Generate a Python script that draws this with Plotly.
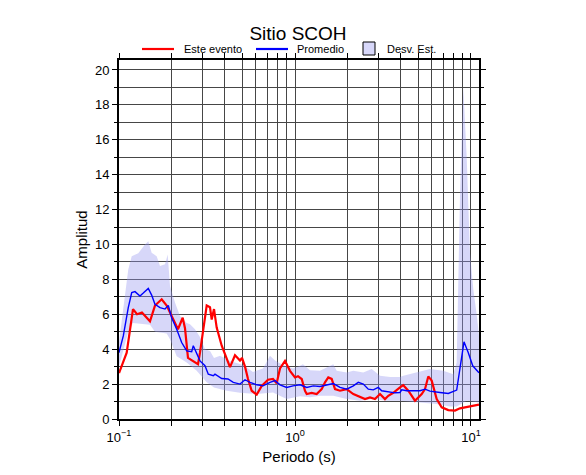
import plotly.graph_objects as go

# ---- data ----
red_period = [0.100, 0.1106, 0.1201, 0.1266, 0.135, 0.1500, 0.1601, 0.1748, 0.1866, 0.1992,
              0.2163, 0.2301, 0.2371, 0.2466, 0.2633, 0.2811, 0.2885, 0.3080, 0.3150, 0.3289,
              0.3363, 0.3466, 0.3590, 0.3834, 0.4091, 0.4272, 0.4561, 0.4870, 0.500, 0.520,
              0.5408, 0.5675, 0.6060, 0.6469, 0.7024, 0.7499, 0.7870, 0.8219, 0.8773, 0.9366,
              1.0, 1.040, 1.092, 1.140, 1.166, 1.244, 1.328, 1.418, 1.481, 1.546,
              1.616, 1.688, 1.802, 1.967, 2.145, 2.341, 2.499, 2.668, 2.848, 3.041,
              3.245, 3.389, 3.618, 3.950, 4.124, 4.404, 4.806, 5.247, 5.478, 5.720,
              5.979, 6.385, 6.816, 7.430, 8.111, 8.660, 9.654, 11.10]
red_amp = [2.63, 3.8, 6.3, 6.0, 6.1, 5.6, 6.5, 6.86, 6.5, 5.9,
           5.14, 5.8, 5.2, 3.5, 3.3, 3.14, 3.8, 6.0, 6.5, 6.4,
           5.7, 6.3, 5.24, 4.2, 3.43, 2.97, 3.65, 3.35, 3.5, 3.0,
           2.29, 1.62, 1.4, 1.9, 2.25, 2.29, 2.05, 2.9, 3.33, 2.76,
           2.38, 2.45, 2.29, 1.62, 1.43, 1.5, 1.43, 1.71, 2.1, 2.38,
           2.3, 1.71, 1.62, 1.71, 1.43, 1.24, 1.14, 1.24, 1.14, 1.43,
           1.14, 1.33, 1.5, 1.81, 1.94, 1.62, 1.05, 1.43, 1.71, 2.44,
           2.2, 1.14, 0.67, 0.51, 0.48, 0.61, 0.69, 0.82]

blue_period = [0.100, 0.1058, 0.1129, 0.1181, 0.1233, 0.1316, 0.1369, 0.1467, 0.1533, 0.1601,
               0.1710, 0.1826, 0.1906, 0.1992, 0.2127, 0.2271, 0.2425, 0.2588, 0.2643, 0.2763,
               0.2885, 0.3080, 0.3216, 0.3434, 0.3511, 0.3834, 0.4161, 0.4461, 0.4870, 0.5199,
               0.5550, 0.6060, 0.6580, 0.7211, 0.7698, 0.8219, 0.8970, 0.9741, 1.068, 1.166,
               1.271, 1.387, 1.514, 1.651, 1.802, 1.967, 2.145, 2.289, 2.444, 2.609,
               2.786, 2.973, 3.109, 3.389, 3.700, 3.950, 4.040, 4.312, 4.701, 5.131,
               5.478, 5.848, 6.667, 7.430, 8.293, 9.125, 9.654, 10.23, 11.10]
blue_amp = [3.8, 4.76, 6.38, 7.24, 7.3, 7.05, 7.2, 7.48, 7.1, 6.57,
            6.38, 6.3, 6.5, 5.8, 5.14, 4.38, 3.9, 3.86, 4.2, 3.8,
            3.33, 3.05, 2.57, 2.48, 2.57, 2.32, 2.29, 2.1, 2.0, 2.25,
            2.1, 1.96, 1.9, 2.1, 2.2, 1.96, 1.81, 1.9, 1.96, 1.81,
            1.9, 1.86, 1.94, 2.03, 1.81, 1.71, 1.9, 2.1, 2.0, 1.71,
            1.67, 1.81, 1.62, 1.56, 1.5, 1.52, 1.67, 1.62, 1.62, 1.62,
            1.71, 1.6, 1.52, 1.46, 1.66, 4.42, 3.8, 3.05, 2.65]

upper_period = [0.100, 0.1129, 0.1181, 0.1287, 0.1405, 0.1467, 0.1533, 0.1637, 0.1710, 0.1826,
                0.1891, 0.1949, 0.2080, 0.2221, 0.2425, 0.2532, 0.2702, 0.2885, 0.3080, 0.3289,
                0.3466, 0.3750, 0.4272, 0.5065, 0.5773, 0.6580, 0.7211, 0.7698, 0.8548, 0.9741,
                1.068, 1.110, 1.217, 1.387, 1.514, 1.651, 1.725, 1.967, 2.145, 2.444,
                2.728, 3.041, 3.466, 3.950, 4.124, 4.914, 5.848, 6.960, 7.932, 8.293,
                8.660, 9.043, 9.454, 9.870, 10.31, 10.77, 11.10]
upper_amp = [4.4, 8.57, 9.33, 9.5, 10.0, 10.19, 9.52, 9.33, 8.76, 8.86,
             9.43, 7.62, 6.67, 5.9, 5.5, 5.43, 5.14, 4.7, 4.0, 3.9,
             3.5, 3.62, 3.33, 3.1, 2.7, 2.9, 3.62, 3.35, 3.1, 2.9,
             3.05, 3.14, 2.8, 2.76, 2.95, 3.14, 2.76, 2.67, 2.76, 2.67,
             2.86, 2.48, 2.4, 2.4, 2.48, 2.67, 2.86, 2.76, 2.57, 3.24,
             12.8, 19.0, 15.0, 9.5, 7.4, 6.0, 4.8]

lower_period = [0.100, 0.1129, 0.1201, 0.1500, 0.1601, 0.1866, 0.1949, 0.2127, 0.2425, 0.2763,
                0.3150, 0.3466, 0.4091, 0.4870, 0.6060, 0.7499, 0.8970, 1.068, 1.217, 1.387,
                1.651, 1.967, 2.341, 2.786, 3.319, 3.950, 4.914, 6.385, 7.597, 8.293,
                9.454, 11.10]
lower_amp = [3.0, 5.0, 5.5, 5.4, 5.0, 4.9, 4.57, 3.6, 3.24, 2.76,
             2.1, 1.8, 1.62, 1.5, 1.43, 1.52, 1.14, 1.3, 1.24, 1.33,
             1.33, 1.14, 1.05, 1.14, 1.05, 1.05, 0.95, 0.86, 0.72, 0.72,
             1.05, 0.95]

x_major_vals = [0.1, 1, 10]
x_major_text = ["10<sup>\u22121</sup>", "10<sup>0</sup>", "10<sup>1</sup>"]
x_minor_vals = [0.2, 0.3, 0.4, 0.5, 0.6, 0.7, 0.8, 0.9,
                2, 3, 4, 5, 6, 7, 8, 9]

legend_names = ["Este evento", "Promedio", "Desv. Est."]

FONT = "Liberation Sans, Arial, Helvetica, sans-serif"
GRID = "rgb(70,70,70)"
RED = "rgb(255,0,0)"
BLUE = "rgb(0,0,255)"
BAND = "rgba(150,150,240,0.38)"

# figure geometry (page adds an 8px body margin)
W, H = 578, 467
L, T = 111, 52
PW, PH = 360, 359


def px(fx):
    return (fx - L) / PW


def py(fy):
    return (T + PH - fy) / PH


fig = go.Figure()

band_x = upper_period + lower_period[::-1]
band_y = upper_amp + lower_amp[::-1]
fig.add_trace(go.Scatter(
    x=band_x, y=band_y, mode="lines", fill="toself",
    fillcolor=BAND, line=dict(width=0),
    name=legend_names[2], showlegend=False, hoverinfo="skip"))
fig.add_trace(go.Scatter(
    x=red_period, y=red_amp, mode="lines",
    line=dict(color=RED, width=2.2),
    name=legend_names[0], showlegend=False))
fig.add_trace(go.Scatter(
    x=blue_period, y=blue_amp, mode="lines",
    line=dict(color=BLUE, width=1.4),
    name=legend_names[1], showlegend=False))

# hand-made legend row above the plot
shapes = [
    dict(type="line", xref="paper", yref="paper",
         x0=px(134), x1=px(166), y0=py(41), y1=py(41),
         line=dict(color=RED, width=2.2)),
    dict(type="line", xref="paper", yref="paper",
         x0=px(248), x1=px(280), y0=py(41), y1=py(41),
         line=dict(color=BLUE, width=2.2)),
    dict(type="rect", xref="paper", yref="paper",
         x0=px(355), x1=px(367), y0=py(47), y1=py(34),
         fillcolor="rgb(215,215,249)", line=dict(color="black", width=1)),
]
annotations = [
    dict(text=legend_names[0], xref="paper", yref="paper", x=px(174), y=py(41),
         xanchor="left", yanchor="middle", showarrow=False,
         font=dict(size=11, family=FONT, color="black")),
    dict(text=legend_names[1], xref="paper", yref="paper", x=px(287), y=py(41),
         xanchor="left", yanchor="middle", showarrow=False,
         font=dict(size=11, family=FONT, color="black")),
    dict(text=legend_names[2], xref="paper", yref="paper", x=px(377), y=py(41),
         xanchor="left", yanchor="middle", showarrow=False,
         font=dict(size=11, family=FONT, color="black")),
]

fig.update_layout(
    width=W, height=H,
    margin=dict(l=L, r=W - L - PW, t=T, b=H - T - PH, pad=0),
    paper_bgcolor="white", plot_bgcolor="white",
    font=dict(family=FONT, color="black", size=12),
    title=dict(text="Sitio SCOH", x=(290 / W), xanchor="center",
               y=1 - 25.5 / H, yanchor="middle",
               font=dict(size=19, family=FONT, color="black")),
    showlegend=False,
    shapes=shapes,
    annotations=annotations,
)

fig.update_xaxes(
    type="log", range=[-1, 1.0455],
    tickmode="array", tickvals=x_major_vals, ticktext=x_major_text,
    ticks="outside", ticklen=5, tickwidth=1, tickcolor="black",
    showgrid=True, gridcolor=GRID, gridwidth=1,
    minor=dict(tickmode="array", tickvals=x_minor_vals, ticks="outside",
               ticklen=5, tickwidth=1, tickcolor="black",
               showgrid=True, gridcolor=GRID, gridwidth=1),
    showline=True, linecolor="black", linewidth=2, mirror="ticks",
    zeroline=False,
    title=dict(text="Periodo (s)", font=dict(size=15, family=FONT), standoff=8),
    tickfont=dict(size=13, family=FONT),
)
fig.update_yaxes(
    range=[0, 20.57], dtick=2, tick0=0,
    ticks="outside", ticklen=5, tickwidth=1, tickcolor="black",
    showgrid=True, gridcolor=GRID, gridwidth=1,
    minor=dict(dtick=1, ticks="outside", ticklen=3, tickcolor="black",
               showgrid=True, gridcolor=GRID, gridwidth=1),
    showline=True, linecolor="black", linewidth=2, mirror="ticks",
    zeroline=False,
    title=dict(text="Amplitud", font=dict(size=15, family=FONT), standoff=4),
    tickfont=dict(size=13, family=FONT),
)

fig.write_html("out.html")
